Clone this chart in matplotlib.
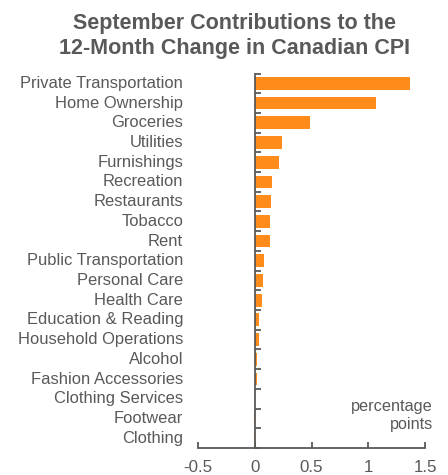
import matplotlib
matplotlib.use("Agg")
import matplotlib.pyplot as plt
import matplotlib.transforms as mtransforms
import numpy as np

plt.rcParams['font.family'] = ['Liberation Sans', 'DejaVu Sans']

categories = [
    "Private Transportation", "Home Ownership", "Groceries", "Utilities",
    "Furnishings", "Recreation", "Restaurants", "Tobacco", "Rent",
    "Public Transportation", "Personal Care", "Health Care",
    "Education & Reading", "Household Operations", "Alcohol",
    "Fashion Accessories", "Clothing Services", "Footwear", "Clothing",
]
contributions = [
    1.37, 1.07, 0.49, 0.24, 0.21, 0.15, 0.14, 0.13, 0.13,
    0.08, 0.07, 0.06, 0.04, 0.04, 0.02, 0.02, 0.0, -0.005, -0.01,
]
x_ticks = [-0.5, 0, 0.5, 1, 1.5]
x_tick_labels = ["-0.5", "0", "0.5", "1", "1.5"]

GRAY = "#595959"
ORANGE = "#FF8C1A"

fig = plt.figure(figsize=(4.48, 4.75), dpi=100)
ax = fig.add_axes([198 / 448, 1 - 448 / 475, (425 - 198) / 448, (448 - 73.5) / 475])

pos = np.arange(len(categories))
ax.barh(pos, contributions, height=0.65, color=ORANGE, zorder=2)

ax.set_xlim(-0.5, 1.5)
ax.set_ylim(len(categories) - 0.5, -0.5)

for s in ("top", "right"):
    ax.spines[s].set_visible(False)
ax.spines["left"].set_position(("data", 0))
for s in ("left", "bottom"):
    ax.spines[s].set_color(GRAY)
    ax.spines[s].set_linewidth(1.3)
    ax.spines[s].set_zorder(3)

ax.set_xticks(x_ticks)
ax.set_xticklabels(x_tick_labels)
ax.tick_params(axis="x", direction="in", length=4, width=1.3, color=GRAY,
               labelcolor=GRAY, labelsize=12.2, pad=8.5)

# category separators as minor ticks on the zero line
ax.set_yticks([])
ax.set_yticks(np.arange(len(categories) + 1) - 0.5, minor=True)
ax.tick_params(axis="y", which="minor", direction="in", length=4, width=1.3,
               color=GRAY, labelleft=False)

label_tf = mtransforms.blended_transform_factory(ax.transAxes, ax.transData)
for p, name in zip(pos, categories):
    ax.text(-0.066, p, name, transform=label_tf, ha="right", va="center",
            fontsize=11.9, color=GRAY)

ax.text(1.035, 0.088, "percentage\npoints", transform=ax.transAxes,
        ha="right", va="center", fontsize=11.7, color=GRAY, linespacing=1.25)

fig.text(0.524, 0.973, "September Contributions to the\n12-Month Change in Canadian CPI",
         ha="center", va="top", fontsize=15.5, fontweight="bold", color=GRAY,
         linespacing=1.27)

fig.savefig("out.png", dpi=100)
